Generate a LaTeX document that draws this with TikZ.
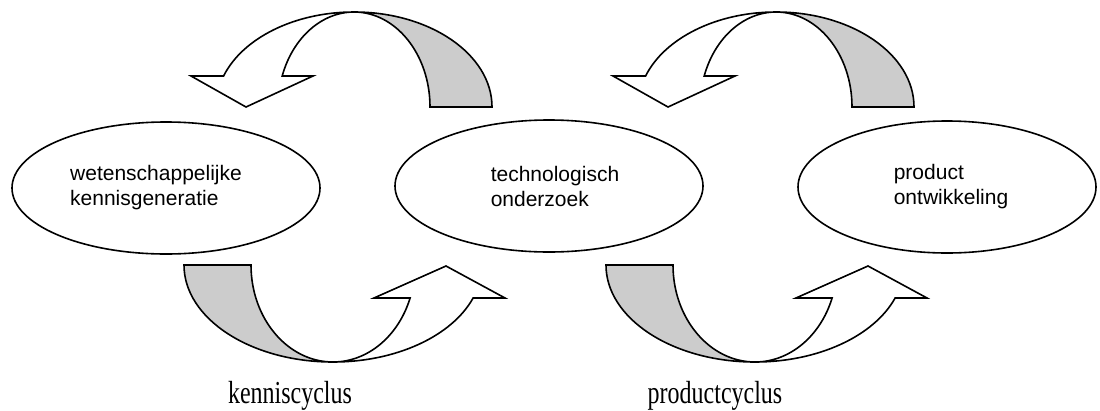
\documentclass[tikz,border=0pt]{standalone}
\usepackage{fontspec}
\usepackage{graphicx}
\usepackage{xcolor}
\usepackage{tikz}
\usetikzlibrary{shapes.geometric}
\setmainfont{Liberation Serif}
\setsansfont{Liberation Sans}
\definecolor{backgray}{RGB}{204,204,204}
\tikzset{
	blob/.style = {draw, ellipse, line width=1.6pt, inner sep=0pt, minimum width=308pt, minimum height=132pt, align=left, font=\sffamily\fontsize{21}{25}\selectfont},
	front/.style = {draw, line width=1.6pt, fill=white},
	back/.style = {draw, line width=1.6pt, fill=backgray},
	cyclus/.style = {anchor=base, inner sep=0pt, font=\fontsize{32}{36}\selectfont}
}

\begin{document}
\begin{tikzpicture}[x=1pt, y=1pt]
		\useasboundingbox (0,0) rectangle (1100,-410);

		\node[blob] (kennis) at (166,-188) {wetenschappelijke\hspace*{20pt}\\kennisgeneratie};
		\node[blob] (onderzoek) at (549,-186) {\hspace*{12pt}technologisch\\\hspace*{12pt}onderzoek};
		\node[blob, minimum width=298pt] (ontwikkeling) at (947,-187) {\hspace*{8pt}product\\\hspace*{8pt}ontwikkeling};

		\draw[back] (354,-12) arc[start angle=90, end angle=0, x radius=138, y radius=95] -- (430,-107) arc[start angle=0, end angle=90, x radius=76, y radius=95] -- cycle;
		\draw[front] (191,-76) -- (246,-107) -- (313,-76) -- (282.2,-76) arc[start angle=160.95, end angle=90, x radius=76, y radius=95] arc[start angle=90, end angle=160.95, x radius=138, y radius=95] -- cycle;

		\draw[back] (776,-12) arc[start angle=90, end angle=0, x radius=138, y radius=95] -- (852,-107) arc[start angle=0, end angle=90, x radius=76, y radius=95] -- cycle;
		\draw[front] (613,-76) -- (668,-107) -- (735,-76) -- (704.2,-76) arc[start angle=160.95, end angle=90, x radius=76, y radius=95] arc[start angle=90, end angle=160.95, x radius=138, y radius=95] -- cycle;

		\draw[back] (184,-265) arc[start angle=180, end angle=270, x radius=149, y radius=97] -- (333,-362) arc[start angle=270, end angle=180, x radius=82, y radius=97] -- cycle;
		\draw[front] (333,-362) arc[start angle=270, end angle=340.11, x radius=149, y radius=97] -- (505,-298) -- (446,-266) -- (374,-298) -- (410.1,-298) arc[start angle=340.11, end angle=270, x radius=82, y radius=97] -- cycle;

		\draw[back] (606,-265) arc[start angle=180, end angle=270, x radius=149, y radius=97] -- (755,-362) arc[start angle=270, end angle=180, x radius=82, y radius=97] -- cycle;
		\draw[front] (755,-362) arc[start angle=270, end angle=340.11, x radius=149, y radius=97] -- (927,-298) -- (868,-266) -- (796,-298) -- (832.1,-298) arc[start angle=340.11, end angle=270, x radius=82, y radius=97] -- cycle;

		\node[cyclus] (kcyclus) at (290,-403) {\scalebox{0.75}[1]{kenniscyclus}};
		\node[cyclus] (pcyclus) at (715,-403) {\scalebox{0.75}[1]{productcyclus}};

	\end{tikzpicture}
\end{document}
